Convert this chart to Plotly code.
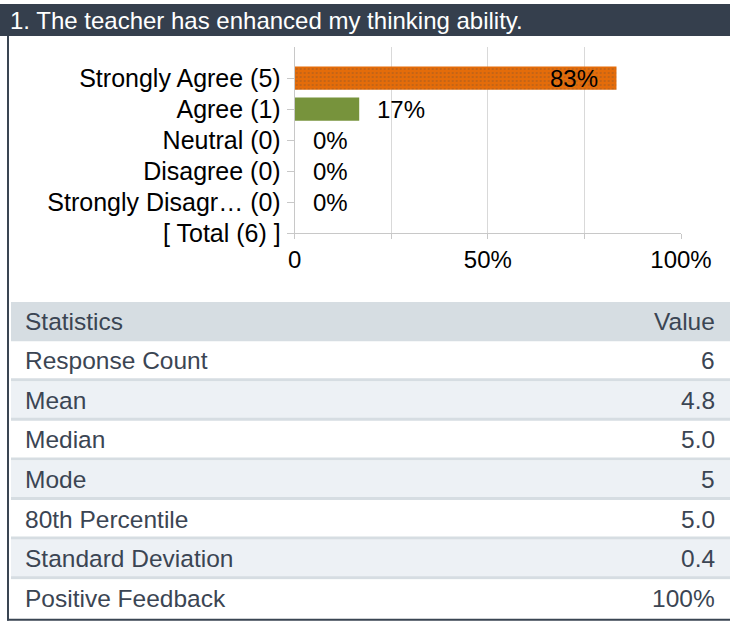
import plotly.graph_objects as go

# ---------------- data ----------------
question = "1. The teacher has enhanced my thinking ability."
categories = ["Strongly Agree (5)", "Agree (1)", "Neutral (0)", "Disagree (0)", "Strongly Disagr\u2026 (0)"]
total_label = "[ Total (6) ]"
percents = [83.3, 16.7, 0, 0, 0]
bar_colors = ["#E46C0A", "#77933C", "#77933C", "#77933C", "#77933C"]
x_tickvals = [0, 25, 50, 75, 100]
x_ticktext = ["0", "", "50%", "", "100%"]
stat_header = ["Statistics", "Value"]
stat_names = ["Response Count", "Mean", "Median", "Mode", "80th Percentile",
              "Standard Deviation", "Positive Feedback"]
stat_values = ["6", "4.8", "5.0", "5", "5.0", "0.4", "100%"]

# ---------------- geometry helpers ----------------
W, H = 730, 621
def px(x):
    return x / W
def py(y):
    return 1 - y / H

FONT = "Liberation Sans, Arial, sans-serif"
TXT_DARK = "#3b4553"

fig = go.Figure()

fig.add_trace(go.Bar(
    x=percents + [None],
    y=categories + [total_label],
    orientation="h",
    width=0.75,
    marker=dict(
        color=bar_colors + ["#77933C"],
        line=dict(width=0),
        pattern=dict(
            shape=["."] + [""] * (len(percents)),
            fillmode="overlay",
            fgcolor="#F7BC86",
            size=4,
            solidity=0.12,
        ),
    ),
    hoverinfo="skip",
))

annotations = []
for c, p in zip(categories, percents):
    inside = p > 50
    annotations.append(dict(
        x=p, y=c, xref="x", yref="y",
        text=f"{round(p)}%",
        xanchor="right" if inside else "left",
        xshift=-16 if inside else 16,
        yanchor="middle",
        showarrow=False,
        font=dict(family=FONT, size=24, color="#000000"),
    ))

# header
annotations.append(dict(
    x=px(8), y=py(20), xref="paper", yref="paper",
    text=question, xanchor="left", yanchor="middle", showarrow=False,
    font=dict(family=FONT, size=24, color="#ffffff"),
))

shapes = []
shapes.append(dict(type="rect", xref="paper", yref="paper",
                   x0=0, x1=1, y0=py(36), y1=py(4),
                   fillcolor="#353f4d", line=dict(width=0), layer="below"))

# statistics table
TOP = 302.0
ROW_H = 39.6
rows = [stat_header] + [[n, v] for n, v in zip(stat_names, stat_values)]
for i, (name, val) in enumerate(rows):
    y0 = TOP + i * ROW_H
    y1 = y0 + ROW_H
    if i == 0:
        fill = "#d6dde2"
    elif i % 2 == 1:
        fill = "#ffffff"
    else:
        fill = "#edf1f5"
    shapes.append(dict(type="rect", xref="paper", yref="paper",
                       x0=px(11), x1=1, y0=py(y1), y1=py(y0),
                       fillcolor=fill, line=dict(width=0), layer="below"))
    if 0 < i < len(rows) - 1:
        shapes.append(dict(type="rect", xref="paper", yref="paper",
                           x0=px(11), x1=1, y0=py(y1 + 0.2), y1=py(y1 - 3),
                           fillcolor="#d6dde2", line=dict(width=0), layer="below"))
    yc = py(y0 + ROW_H / 2 - 0.8)
    annotations.append(dict(x=px(23), y=yc, xref="paper", yref="paper",
                            text=name, xanchor="left", yanchor="middle",
                            showarrow=False,
                            font=dict(family=FONT, size=24.5, color=TXT_DARK)))
    annotations.append(dict(x=px(717), y=yc, xref="paper", yref="paper",
                            text=val, xanchor="right", yanchor="middle",
                            showarrow=False,
                            font=dict(family=FONT, size=24.5, color=TXT_DARK)))

# frame lines
shapes.append(dict(type="line", xref="paper", yref="paper",
                   x0=px(8), x1=px(8), y0=py(620.5), y1=py(36),
                   line=dict(color="#3a4552", width=2)))
shapes.append(dict(type="line", xref="paper", yref="paper",
                   x0=px(7), x1=1, y0=py(619.7), y1=py(619.7),
                   line=dict(color="#3a4552", width=2)))

fig.update_layout(
    width=W, height=H,
    margin=dict(l=0, r=0, t=0, b=0, pad=0, autoexpand=False),
    paper_bgcolor="#ffffff", plot_bgcolor="#ffffff",
    showlegend=False,
    font=dict(family=FONT, size=24, color="#000000"),
    bargap=0.25,
    xaxis=dict(
        domain=[px(294.7), px(681)],
        range=[0, 100],
        tickvals=x_tickvals, ticktext=x_ticktext,
        showgrid=True, gridcolor="#d9d9d9", gridwidth=1,
        showline=True, linecolor="#c8c8c8", linewidth=1,
        ticks="outside", ticklen=5, tickcolor="#c8c8c8",
        tickfont=dict(family=FONT, size=24, color="#000000"),
        zeroline=False, fixedrange=True, automargin=False,
    ),
    yaxis=dict(
        domain=[py(233), py(47)],
        type="category",
        categoryorder="array",
        categoryarray=[total_label] + categories[::-1],
        range=[0, 6],
        showgrid=False,
        showline=True, linecolor="#c8c8c8", linewidth=1,
        ticks="outside", ticklen=7, tickcolor="#c8c8c8",
        tickfont=dict(family=FONT, size=25, color="#000000"),
        ticklabelstandoff=1,
        zeroline=False, fixedrange=True, automargin=False,
    ),
    annotations=annotations,
    shapes=shapes,
)

fig.write_html(
    "out.html",
    config={"displayModeBar": False, "responsive": False},
    post_script="document.documentElement.style.margin='0';document.body.style.margin='0';"
                "document.documentElement.style.overflow='hidden';document.body.style.overflow='hidden';",
)
